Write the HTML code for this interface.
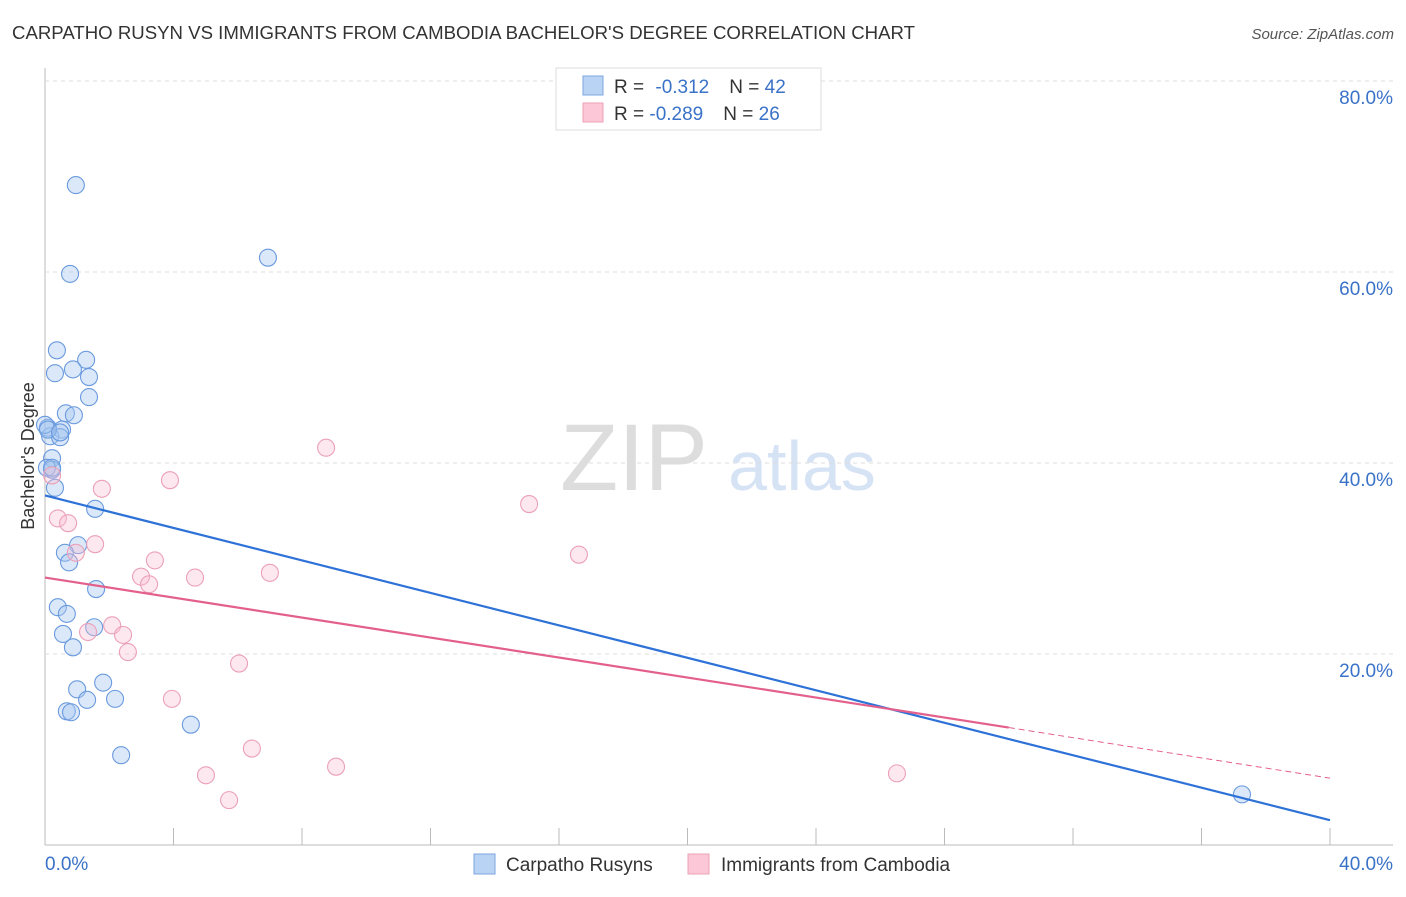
<!DOCTYPE html>
<html><head><meta charset="utf-8"><style>
body{margin:0;background:#fff;font-family:"Liberation Sans",sans-serif}
svg text{font-family:"Liberation Sans",sans-serif}
</style></head><body>
<svg id="c" width="1406" height="892" xmlns="http://www.w3.org/2000/svg">
<text x="12" y="39" font-size="18" fill="#333" textLength="903" lengthAdjust="spacingAndGlyphs">CARPATHO RUSYN VS IMMIGRANTS FROM CAMBODIA BACHELOR'S DEGREE CORRELATION CHART</text>
<text x="1394" y="39" font-size="15" fill="#555" font-style="italic" text-anchor="end">Source: ZipAtlas.com</text>
<text x="634" y="490" font-size="95" fill="#ddd" font-family="Liberation Serif" text-anchor="middle">ZIP</text>
<text x="802" y="490" font-size="70" fill="#d6e3f5" text-anchor="middle">atlas</text>
<text transform="translate(34,456) rotate(-90)" font-size="18" fill="#333" text-anchor="middle">Bachelor's Degree</text>
<g id="grid"></g><g id="pts"></g><g id="lines"></g>
<g>
<rect x="556" y="68" width="265" height="62" fill="#fff" stroke="#ddd"/>
<rect x="583" y="76" width="20" height="19" fill="#b9d3f5" stroke="#7ea6e0"/>
<rect x="583" y="103" width="20" height="19" fill="#fcc7d6" stroke="#eea0b6"/>
<text x="614" y="93" font-size="19" fill="#333">R = <tspan fill="#3a72c8" dx="6">-0.312</tspan><tspan fill="#333" dx="20">N = </tspan><tspan fill="#3a72c8">42</tspan></text>
<text x="614" y="120" font-size="19" fill="#333">R = <tspan fill="#3a72c8">-0.289</tspan><tspan fill="#333" dx="20">N = </tspan><tspan fill="#3a72c8">26</tspan></text>
</g>
<g>
<rect x="474" y="854" width="21" height="20" fill="#b9d3f5" stroke="#7ea6e0"/>
<text x="506" y="871" font-size="19" fill="#333">Carpatho Rusyns</text>
<rect x="688" y="854" width="21" height="20" fill="#fcc7d6" stroke="#eea0b6"/>
<text x="721" y="871" font-size="19" fill="#333">Immigrants from Cambodia</text>
</g>
</svg>
<script>
const blueX=[0.96,6.94,0.78,0.37,1.28,0.31,0.87,1.37,1.37,0.65,0.90,0.09,0.53,0.16,0.47,0.22,0.22,0.31,1.56,1.03,0.62,0.75,1.59,0.40,0.68,1.53,0.56,0.87,1.00,1.81,1.31,2.18,0.68,0.81,4.54,2.37,37.26,0.0,0.06,0.09,0.47,0.22];
const blueY=[69.1,61.5,59.8,51.8,50.8,49.4,49.8,49.0,46.9,45.2,45.0,43.7,43.5,42.8,42.7,40.5,39.3,37.4,35.2,31.4,30.6,29.6,26.8,24.9,24.2,22.8,22.1,20.7,16.3,17.0,15.2,15.3,14.0,13.9,12.6,9.4,5.3,44.0,39.5,43.5,43.2,39.5];
const pinkX=[8.75,0.22,3.89,1.77,15.07,0.40,0.72,1.56,0.96,16.62,3.42,2.99,3.24,4.67,7.00,2.09,1.34,2.43,2.58,6.04,3.95,6.44,5.01,9.06,5.73,26.52];
const pinkY=[41.6,38.7,38.2,37.3,35.7,34.2,33.7,31.5,30.6,30.4,29.8,28.1,27.3,28.0,28.5,23.0,22.3,22.0,20.2,19.0,15.3,10.1,7.3,8.2,4.7,7.5];
const yTicks=[20,40,60,80];
const yTickLabels=["20.0%","40.0%","60.0%","80.0%"];
const blueTrend=[[0,36.6],[40,2.6]];
const pinkTrend=[[0,28.0],[30,12.3],[40,7.0]];
const X=v=>45+v*32.125, Y=v=>845-v*9.55;
const NS="http://www.w3.org/2000/svg";
function mk(p,t,a){const e=document.createElementNS(NS,t);for(const k in a)e.setAttribute(k,a[k]);document.getElementById(p).appendChild(e);return e;}
let l=mk('grid','line',{x1:45,y1:68,x2:45,y2:845,stroke:'#bbb'});


l=mk('grid','line',{x1:45,y1:845,x2:1393,y2:845,stroke:'#bbb'});


for(let i=0;i<=10;i++){const t=mk('grid','line',{x1:X(i*4),y1:828,x2:X(i*4),y2:845,stroke:'#bbb'});

}
yTicks.forEach((v,i)=>{const g=mk('grid','line',{x1:45,y1:Y(v),x2:1393,y2:Y(v),stroke:'#ddd','stroke-dasharray':'4,4'});


const t=mk('grid','text',{x:1393,y:Y(v)+23,'font-size':19,fill:'#3a72c8','text-anchor':'end'});t.textContent=yTickLabels[i];

});
let t=mk('grid','text',{x:45,y:870,'font-size':19,fill:'#3a72c8'});t.textContent='0.0%';


t=mk('grid','text',{x:1393,y:870,'font-size':19,fill:'#3a72c8','text-anchor':'end'});t.textContent='40.0%';


blueX.forEach((x,i)=>{const c=mk('pts','circle',{cx:X(x),cy:Y(blueY[i]),r:8.5,fill:'rgba(165,198,240,0.4)',stroke:'#6a9ade','stroke-width':1.1});

});
pinkX.forEach((x,i)=>{const c=mk('pts','circle',{cx:X(x),cy:Y(pinkY[i]),r:8.5,fill:'rgba(250,190,208,0.35)',stroke:'#eba0b8','stroke-width':1.1});

});
l=mk('lines','line',{x1:X(blueTrend[0][0]),y1:Y(blueTrend[0][1]),x2:X(blueTrend[1][0]),y2:Y(blueTrend[1][1]),stroke:'#2e72d8','stroke-width':2.2});


l=mk('lines','line',{x1:X(pinkTrend[0][0]),y1:Y(pinkTrend[0][1]),x2:X(pinkTrend[1][0]),y2:Y(pinkTrend[1][1]),stroke:'#e4608c','stroke-width':2.2});


l=mk('lines','line',{x1:X(pinkTrend[1][0]),y1:Y(pinkTrend[1][1]),x2:X(pinkTrend[2][0]),y2:Y(pinkTrend[2][1]),stroke:'#e4608c','stroke-width':1,'stroke-dasharray':'6,4'});


</script>
</body></html>
